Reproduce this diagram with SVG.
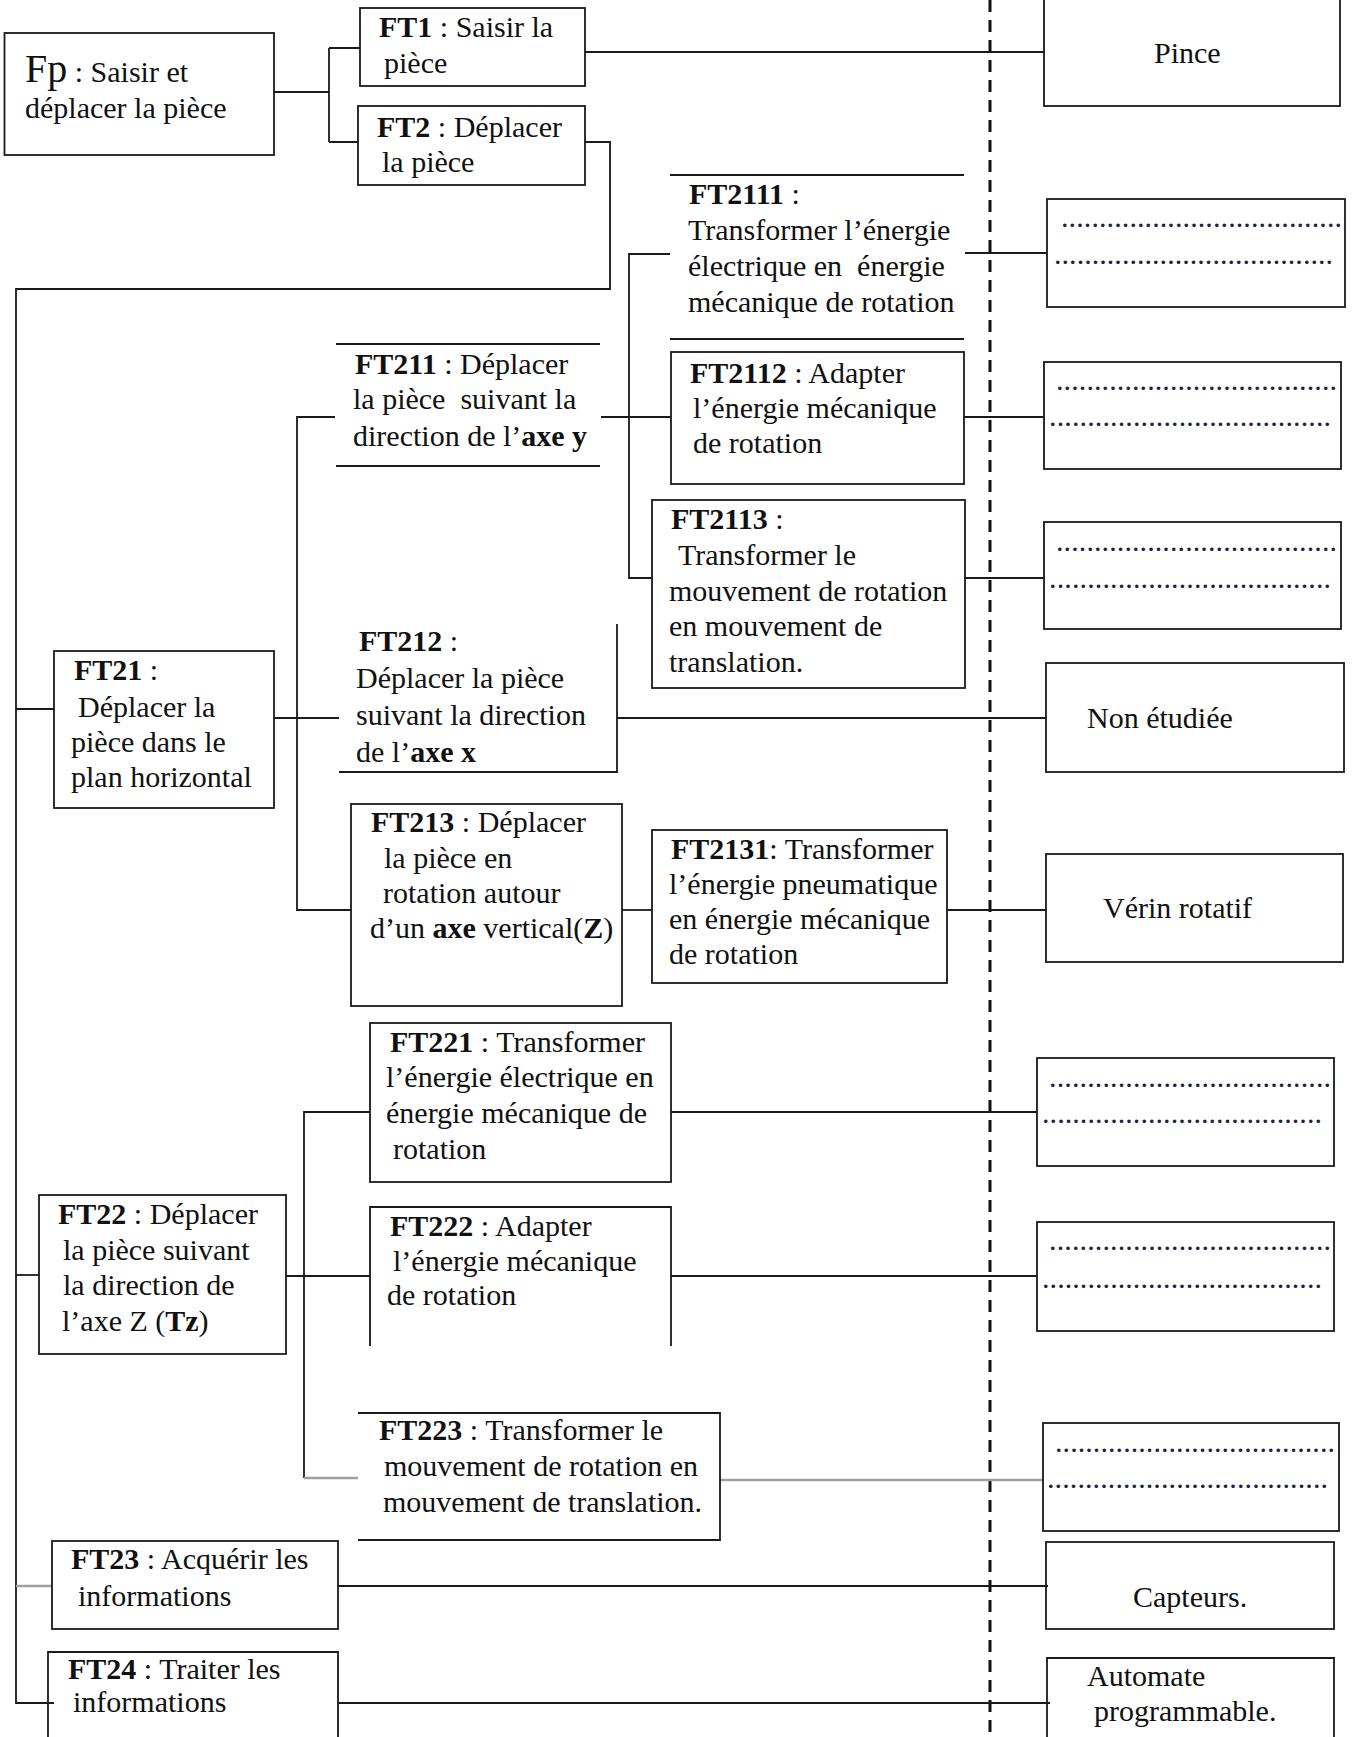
<svg xmlns="http://www.w3.org/2000/svg" width="1353" height="1737" viewBox="0 0 1353 1737">
<style>
.bx{fill:none;stroke:#1a1a1a;stroke-width:1.8}
.cn{fill:none;stroke:#1a1a1a;stroke-width:1.8}
.gr{fill:none;stroke:#a0a0a0;stroke-width:2.6}
.t{font-family:"Liberation Serif","Times New Roman",serif;font-size:30px;fill:#111}
.b{font-weight:bold}
.d{font-family:"Liberation Serif",serif;font-size:30px;fill:#1a2340}
</style>
<rect width="1353" height="1737" fill="#fff"/>
<g id="connectors">
<line x1="990" y1="0" x2="990" y2="1737" stroke="#111" stroke-width="3" stroke-dasharray="12 8"/>
<path class="cn" d="M274,92 H329 M329,48 V142 M329,48 H360 M329,142 H358"/>
<path class="cn" d="M585,52 H1044"/>
<path class="cn" d="M585,142 H610 V289 H16 V1703 H54"/>
<path class="cn" d="M16,709 H54"/>
<path class="cn" d="M16,1275 H39"/>
<path class="gr" d="M16,1586 H52"/>
<path class="cn" d="M274,718 H339"/>
<path class="cn" d="M335,417 H297 V910 H351"/>
<path class="cn" d="M601,417 H671"/>
<path class="cn" d="M670,254 H629 V578 H652"/>
<path class="cn" d="M965,253 H1047"/>
<path class="cn" d="M964,417 H1044"/>
<path class="cn" d="M965,578 H1044"/>
<path class="cn" d="M617,718 H1046"/>
<path class="cn" d="M622,910 H652"/>
<path class="cn" d="M947,910 H1046"/>
<path class="cn" d="M286,1276 H370"/>
<path class="cn" d="M370,1112 H304 V1478"/>
<path class="gr" d="M304,1478 H358"/>
<path class="cn" d="M671,1112 H1037"/>
<path class="cn" d="M671,1276 H1037"/>
<path class="gr" d="M720,1480 H1043"/>
<path class="cn" d="M338,1586 H1048"/>
<path class="cn" d="M338,1703 H1050"/>
</g>
<g id="Fp">
<rect class="bx" x="4.5" y="33" width="269.5" height="122"/>
<text class="t" x="25" y="82"><tspan font-size="40">Fp</tspan> : Saisir et</text>
<text class="t" x="25" y="118">déplacer la pièce</text>
</g>
<g id="FT1">
<rect class="bx" x="360" y="8" width="225" height="78"/>
<text class="t" x="379" y="37"><tspan class="b">FT1</tspan> : Saisir la</text>
<text class="t" x="384" y="73">pièce</text>
</g>
<g id="FT2">
<rect class="bx" x="358" y="106" width="227" height="79"/>
<text class="t" x="377" y="137"><tspan class="b">FT2</tspan> : Déplacer</text>
<text class="t" x="382" y="172">la pièce</text>
</g>
<g id="Pince">
<rect class="bx" x="1044" y="-5" width="296" height="111"/>
<text class="t" x="1154" y="63">Pince</text>
</g>
<g id="FT2111">
<path class="bx" d="M670,175 H964 M670,339 H964"/>
<text class="t" x="689" y="204"><tspan class="b">FT2111</tspan> :</text>
<text class="t" x="688" y="240">Transformer l’énergie</text>
<text class="t" x="688" y="276" xml:space="preserve">électrique en  énergie</text>
<text class="t" x="688" y="312">mécanique de rotation</text>
</g>
<g id="S1">
<rect class="bx" x="1047" y="199" width="298" height="108"/>
<text class="d" x="1061" y="227" textLength="281" lengthAdjust="spacing">.....................................</text>
<text class="d" x="1054" y="264" textLength="279" lengthAdjust="spacing">.....................................</text>
</g>
<g id="FT211">
<path class="bx" d="M336,344 H600 M336,466 H600"/>
<text class="t" x="355" y="374"><tspan class="b">FT211</tspan> : Déplacer</text>
<text class="t" x="353" y="409" xml:space="preserve">la pièce  suivant la</text>
<text class="t" x="353" y="446">direction de l’<tspan class="b">axe y</tspan></text>
</g>
<g id="FT2112">
<rect class="bx" x="671" y="352" width="293" height="132"/>
<text class="t" x="690" y="383"><tspan class="b">FT2112</tspan> : Adapter</text>
<text class="t" x="693" y="418">l’énergie mécanique</text>
<text class="t" x="693" y="453">de rotation</text>
</g>
<g id="S2">
<rect class="bx" x="1044" y="362" width="297" height="107"/>
<text class="d" x="1056" y="390" textLength="281" lengthAdjust="spacing">.....................................</text>
<text class="d" x="1049" y="426" textLength="282" lengthAdjust="spacing">.....................................</text>
</g>
<g id="FT2113">
<rect class="bx" x="652" y="500" width="313" height="188"/>
<text class="t" x="671" y="529"><tspan class="b">FT2113</tspan> :</text>
<text class="t" x="678" y="565">Transformer le</text>
<text class="t" x="669" y="601">mouvement de rotation</text>
<text class="t" x="669" y="636">en mouvement de</text>
<text class="t" x="669" y="672">translation.</text>
</g>
<g id="S3">
<rect class="bx" x="1044" y="522" width="297" height="107"/>
<text class="d" x="1056" y="551" textLength="281" lengthAdjust="spacing">.....................................</text>
<text class="d" x="1049" y="588" textLength="282" lengthAdjust="spacing">.....................................</text>
</g>
<g id="FT21">
<rect class="bx" x="54" y="651" width="220" height="157"/>
<text class="t" x="74" y="680"><tspan class="b">FT21</tspan> :</text>
<text class="t" x="78" y="717">Déplacer la</text>
<text class="t" x="71" y="752">pièce dans le</text>
<text class="t" x="71" y="787">plan horizontal</text>
</g>
<g id="FT212">
<path class="bx" d="M339,772 H617 V624"/>
<text class="t" x="359" y="651"><tspan class="b">FT212</tspan> :</text>
<text class="t" x="356" y="688">Déplacer la pièce</text>
<text class="t" x="356" y="725">suivant la direction</text>
<text class="t" x="356" y="762">de l’<tspan class="b">axe x</tspan></text>
</g>
<g id="NonEtudiee">
<rect class="bx" x="1046" y="663" width="298" height="109"/>
<text class="t" x="1087" y="728">Non étudiée</text>
</g>
<g id="FT213">
<rect class="bx" x="351" y="804" width="271" height="202"/>
<text class="t" x="371" y="832"><tspan class="b">FT213</tspan> : Déplacer</text>
<text class="t" x="384" y="868">la pièce en</text>
<text class="t" x="383" y="903">rotation autour</text>
<text class="t" x="370" y="938">d’un <tspan class="b">axe</tspan> vertical(<tspan class="b">Z</tspan>)</text>
</g>
<g id="FT2131">
<rect class="bx" x="652" y="830" width="295" height="153"/>
<text class="t" x="671" y="859"><tspan class="b">FT2131</tspan>: Transformer</text>
<text class="t" x="669" y="894">l’énergie pneumatique</text>
<text class="t" x="669" y="929">en énergie mécanique</text>
<text class="t" x="669" y="964">de rotation</text>
</g>
<g id="Verin">
<rect class="bx" x="1046" y="854" width="297" height="108"/>
<text class="t" x="1103" y="918">Vérin rotatif</text>
</g>
<g id="FT221">
<rect class="bx" x="370" y="1023" width="301" height="159"/>
<text class="t" x="390" y="1052"><tspan class="b">FT221</tspan> : Transformer</text>
<text class="t" x="386" y="1087">l’énergie électrique en</text>
<text class="t" x="386" y="1123">énergie mécanique de</text>
<text class="t" x="393" y="1159">rotation</text>
</g>
<g id="S4">
<rect class="bx" x="1037" y="1058" width="297" height="108"/>
<text class="d" x="1049" y="1087" textLength="282" lengthAdjust="spacing">.....................................</text>
<text class="d" x="1042" y="1123" textLength="280" lengthAdjust="spacing">.....................................</text>
</g>
<g id="FT222">
<path class="bx" d="M370,1346 V1207 H671 V1346"/>
<text class="t" x="390" y="1236"><tspan class="b">FT222</tspan> : Adapter</text>
<text class="t" x="393" y="1271">l’énergie mécanique</text>
<text class="t" x="387" y="1305">de rotation</text>
</g>
<g id="FT22">
<rect class="bx" x="39" y="1195" width="247" height="159"/>
<text class="t" x="58" y="1224"><tspan class="b">FT22</tspan> : Déplacer</text>
<text class="t" x="63" y="1260">la pièce suivant</text>
<text class="t" x="63" y="1295">la direction de</text>
<text class="t" x="62" y="1331">l’axe Z (<tspan class="b">Tz</tspan>)</text>
</g>
<g id="S5">
<rect class="bx" x="1037" y="1222" width="297" height="109"/>
<text class="d" x="1049" y="1250" textLength="282" lengthAdjust="spacing">.....................................</text>
<text class="d" x="1042" y="1288" textLength="280" lengthAdjust="spacing">.....................................</text>
</g>
<g id="FT223">
<path class="bx" d="M358,1413 H720 V1540 H358"/>
<text class="t" x="379" y="1440"><tspan class="b">FT223</tspan> : Transformer le</text>
<text class="t" x="384" y="1476">mouvement de rotation en</text>
<text class="t" x="383" y="1512">mouvement de translation.</text>
</g>
<g id="S6">
<rect class="bx" x="1043" y="1423" width="296" height="108"/>
<text class="d" x="1055" y="1452" textLength="280" lengthAdjust="spacing">.....................................</text>
<text class="d" x="1047" y="1488" textLength="281" lengthAdjust="spacing">.....................................</text>
</g>
<g id="FT23">
<rect class="bx" x="52" y="1541" width="286" height="88"/>
<text class="t" x="71" y="1569"><tspan class="b">FT23</tspan> : Acquérir les</text>
<text class="t" x="78" y="1606">informations</text>
</g>
<g id="Capteurs">
<rect class="bx" x="1046" y="1542" width="288" height="87"/>
<text class="t" x="1133" y="1607">Capteurs.</text>
</g>
<g id="FT24">
<path class="bx" d="M48,1745 V1652 H338 V1745"/>
<text class="t" x="68" y="1679"><tspan class="b">FT24</tspan> : Traiter les</text>
<text class="t" x="73" y="1712">informations</text>
</g>
<g id="Automate">
<path class="bx" d="M1047,1745 V1658 H1334 V1745"/>
<text class="t" x="1087" y="1686">Automate</text>
<text class="t" x="1094" y="1721">programmable.</text>
</g>
</svg>
